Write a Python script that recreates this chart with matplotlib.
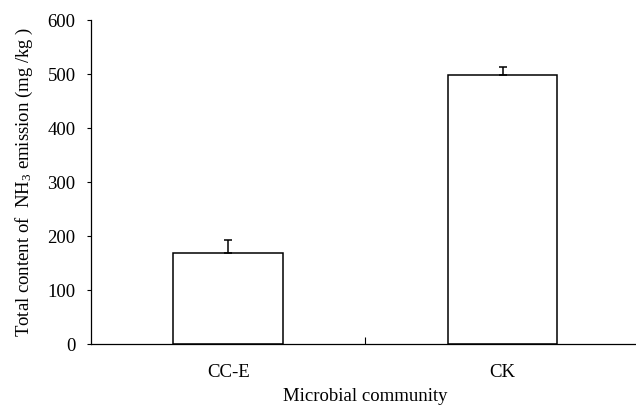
import numpy as np
import matplotlib
matplotlib.use("Agg")
import matplotlib.pyplot as plt

# data
groups = ["CC-E", "CK"]
nh3_total = [168, 498]
nh3_err = [24, 16]

plt.rcParams["font.family"] = ["Liberation Serif", "DejaVu Serif"]
plt.rcParams["mathtext.fontset"] = "custom"
plt.rcParams["mathtext.rm"] = "Liberation Serif"
plt.rcParams["mathtext.it"] = "Liberation Serif:italic"

fs = 13.5

fig = plt.figure(figsize=(6.36, 4.11), dpi=100)
ax = fig.add_axes([0.143, 0.163, 0.863, 0.788])

x = np.arange(len(groups))
ax.bar(x, nh3_total, width=0.4, color="white", edgecolor="black", linewidth=1.1)
ax.errorbar(x, nh3_total, yerr=[np.zeros(len(x)), nh3_err], fmt="none",
            ecolor="black", elinewidth=1.1, capsize=3, capthick=1.1)

ax.set_xlim(-0.5, 1.5)
ax.set_ylim(0, 600)
ax.set_yticks(np.arange(0, 601, 100))

# category labels sit between ticks, only a divider tick in the middle
ax.set_xticks([0.5])
ax.set_xticklabels([""])
ax.tick_params(axis="x", direction="in", length=5, width=0.8)
for xi, lab in zip(x, groups):
    ax.text(xi, -0.087, lab, transform=ax.get_xaxis_transform(),
            ha="center", va="center", fontsize=fs)
ax.tick_params(axis="y", direction="out", length=3, width=0.8, labelsize=fs, pad=8)

for side in ["top", "right"]:
    ax.spines[side].set_visible(False)
for side in ["left", "bottom"]:
    ax.spines[side].set_linewidth(0.9)

ax.set_xlabel("Microbial community", fontsize=fs, labelpad=28)
ax.set_ylabel("Total content of  NH$_3$ emission (mg /kg )", fontsize=fs, labelpad=9)

fig.savefig("out.png", dpi=100)
